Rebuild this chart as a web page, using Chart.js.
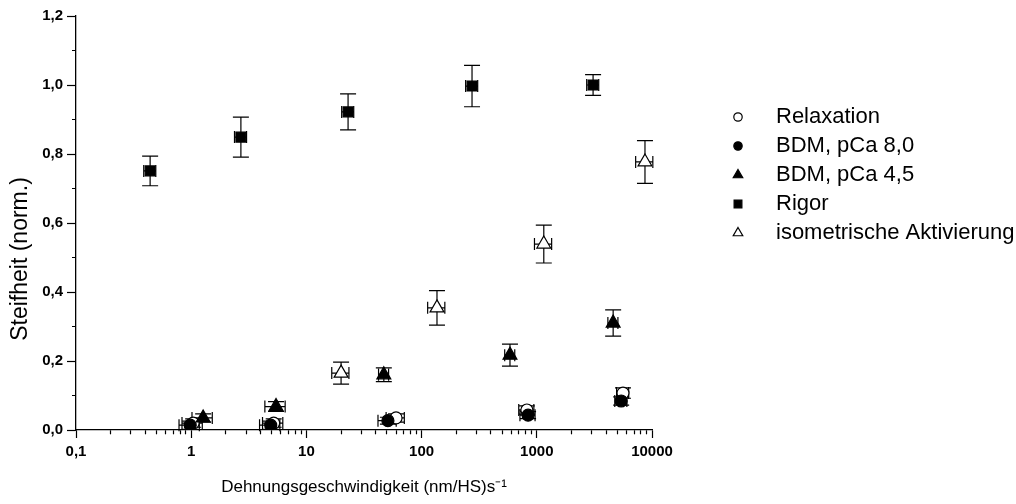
<!DOCTYPE html>
<html>
<head>
<meta charset="utf-8">
<script src="https://cdn.jsdelivr.net/npm/chart.js@4.4.0/dist/chart.umd.min.js"></script>
<style>
  html, body { margin: 0; padding: 0; background: #fff; }
</style>
</head>
<body>
<canvas id="chart" width="1016" height="504"></canvas>
<script>
// Werte
const xTickValues = [0.1, 1, 10, 100, 1000, 10000];
const xTickLabels = ['0,1', '1', '10', '100', '1000', '10000'];
const yTickLabels = ['0,0', '0,2', '0,4', '0,6', '0,8', '1,0', '1,2'];
const yTitle = 'Steifheit (norm.)';
const xTitle = 'Dehnungsgeschwindigkeit (nm/HS)s\u207B\u00B9';

const relaxX = [1.04, 5.2, 60, 820, 5600];
const relaxY = [0.020, 0.020, 0.035, 0.058, 0.107];
const relaxErr = [0.012, 0.012, 0.012, 0.012, 0.015];
const relaxXErr = [0.2, 0.2, 0.18, 0.15, 0.12];

const bdm80X = [0.98, 4.9, 51, 840, 5400];
const bdm80Y = [0.014, 0.014, 0.027, 0.043, 0.084];
const bdm80Err = [0.012, 0.012, 0.01, 0.01, 0.012];
const bdm80XErr = [0.2, 0.2, 0.18, 0.15, 0.12];

const bdm45X = [1.27, 5.45, 47, 585, 4600];
const bdm45Y = [0.035, 0.068, 0.160, 0.217, 0.310];
const bdm45Err = [0.012, 0.014, 0.02, 0.032, 0.038];
const bdm45XErr = [0.2, 0.2, 0.1, 0.1, 0.1];

const rigorX = [0.44, 2.7, 23, 274, 3080];
const rigorY = [0.751, 0.849, 0.922, 0.997, 1.0];
const rigorErr = [0.043, 0.058, 0.052, 0.06, 0.03];
const rigorXErr = [0.12, 0.12, 0.12, 0.12, 0.12];

const isoX = [20, 136, 1150, 8690];
const isoY = [0.165, 0.354, 0.539, 0.777];
const isoErr = [0.032, 0.05, 0.055, 0.062];
const isoXErr = [0.17, 0.17, 0.17, 0.17];

const FONT = '"Liberation Sans", Arial, sans-serif';

function makeSet(label, xs, ys, yErr, xErr, style, fill, radius, order) {
  return {
    label,
    data: xs.map((x, i) => ({ x, y: ys[i], yErr: yErr[i], xErr: xErr[i] })),
    showLine: false,
    pointStyle: style,
    pointRadius: radius,
    pointHoverRadius: radius,
    pointBackgroundColor: fill,
    pointBorderColor: '#000',
    pointBorderWidth: 1.2,
    order
  };
}

const datasets = [
  makeSet('Relaxation', relaxX, relaxY, relaxErr, relaxXErr, 'circle', '#fff', 6, 4),
  makeSet('BDM, pCa 8,0', bdm80X, bdm80Y, bdm80Err, bdm80XErr, 'circle', '#000', 6, 3),
  makeSet('BDM, pCa 4,5', bdm45X, bdm45Y, bdm45Err, bdm45XErr, 'triangle', '#000', 8, 2),
  makeSet('Rigor', rigorX, rigorY, rigorErr, rigorXErr, 'rect', '#000', 7, 1),
  makeSet('isometrische Aktivierung', isoX, isoY, isoErr, isoXErr, 'triangle', '#fff', 8, 0)
];

// Fehlerbalken (x und y) über die Skalen zeichnen
const errorBars = {
  id: 'errorBars',
  beforeDatasetsDraw(chart) {
    const { ctx, scales: { x: xs, y: ys } } = chart;
    ctx.save();
    ctx.strokeStyle = '#000';
    ctx.lineWidth = 1.2;
    chart.data.datasets.forEach((ds) => {
      ds.data.forEach((p) => {
        const px = xs.getPixelForValue(p.x);
        const py = ys.getPixelForValue(p.y);
        const yt = ys.getPixelForValue(p.y + p.yErr);
        const yb = ys.getPixelForValue(p.y - p.yErr);
        const xl = xs.getPixelForValue(p.x * (1 - p.xErr));
        const xr = xs.getPixelForValue(p.x * (1 + p.xErr));
        ctx.beginPath();
        ctx.moveTo(px, yt); ctx.lineTo(px, yb);
        ctx.moveTo(px - 8, yt); ctx.lineTo(px + 8, yt);
        ctx.moveTo(px - 8, yb); ctx.lineTo(px + 8, yb);
        ctx.moveTo(xl, py); ctx.lineTo(xr, py);
        ctx.moveTo(xl, py - 6); ctx.lineTo(xl, py + 6);
        ctx.moveTo(xr, py - 6); ctx.lineTo(xr, py + 6);
        ctx.stroke();
      });
    });
    ctx.restore();
  }
};

// Legende rechts und y-Achsentitel (etwas unter der Mitte, wie im Original)
const sideLegend = {
  id: 'sideLegend',
  afterDraw(chart) {
    const { ctx, chartArea } = chart;
    const mx = chartArea.right + 86;
    const tx = chartArea.right + 124;
    ctx.save();
    ctx.font = '22px ' + FONT;
    ctx.textBaseline = 'middle';
    chart.data.datasets.forEach((ds, i) => {
      const y = chartArea.top + 101 + i * 29;
      ctx.fillStyle = ds.pointBackgroundColor;
      ctx.strokeStyle = '#000';
      ctx.lineWidth = 1.2;
      const r = ds.pointStyle === 'circle' ? 4.2 : 5.5;
      Chart.helpers.drawPoint(ctx, { pointStyle: ds.pointStyle, radius: r, borderWidth: 1.2, rotation: 0 }, mx, y);
      ctx.fillStyle = '#000';
      ctx.fillText(ds.label, tx, y);
    });
    ctx.translate(21, 259);
    ctx.rotate(-Math.PI / 2);
    ctx.textAlign = 'center';
    ctx.font = '23px ' + FONT;
    ctx.fillText(yTitle, 0, 0);
    ctx.restore();
  }
};

new Chart(document.getElementById('chart'), {
  type: 'scatter',
  data: { datasets },
  plugins: [errorBars, sideLegend],
  options: {
    responsive: false,
    animation: false,
    layout: { padding: { top: 16, right: 364, left: 0, bottom: 0 } },
    plugins: { legend: { display: false }, tooltip: { enabled: false } },
    scales: {
      x: {
        type: 'logarithmic',
        min: 0.1,
        max: 10000,
        afterFit: (s) => { s.height = 74; },
        afterBuildTicks: (s) => {
          const t = [];
          xTickValues.forEach((d, i) => {
            if (i < xTickValues.length - 1) {
              for (let m = 1; m <= 9; m++) t.push({ value: d * m, major: m === 1 });
            } else {
              t.push({ value: d, major: true });
            }
          });
          s.ticks = t;
        },
        border: { display: true, color: '#000', width: 1.3 },
        grid: {
          drawOnChartArea: false,
          drawTicks: true,
          tickLength: 8,
          tickColor: '#000',
          tickWidth: 1.2,
          tickBorderDash: (c) => (c.tick && c.tick.major ? [] : [4, 40])
        },
        ticks: {
          autoSkip: false,
          maxRotation: 0,
          padding: 5,
          color: '#000',
          font: { family: FONT, size: 15, weight: 'bold' },
          callback: (v) => {
            const i = xTickValues.findIndex((d) => Math.abs(d - v) < d * 1e-6);
            return i >= 0 ? xTickLabels[i] : '';
          }
        },
        title: {
          display: true,
          text: xTitle,
          color: '#000',
          padding: { top: 0, bottom: 6 },
          font: { family: FONT, size: 17 }
        }
      },
      y: {
        min: 0,
        max: 1.2,
        afterFit: (s) => { s.width = 76; },
        border: { display: true, color: '#000', width: 1.3 },
        grid: {
          drawOnChartArea: false,
          drawTicks: true,
          tickLength: 9,
          tickColor: '#000',
          tickWidth: 1.2,
          tickBorderDash: (c) => (c.index % 2 === 0 ? [] : [0, 5, 4, 40])
        },
        ticks: {
          stepSize: 0.1,
          padding: 4,
          color: '#000',
          font: { family: FONT, size: 15, weight: 'bold' },
          callback: (v, i) => (i % 2 === 0 ? yTickLabels[i / 2] : '')
        },
        title: { display: false }
      }
    }
  }
});
</script>
</body>
</html>
